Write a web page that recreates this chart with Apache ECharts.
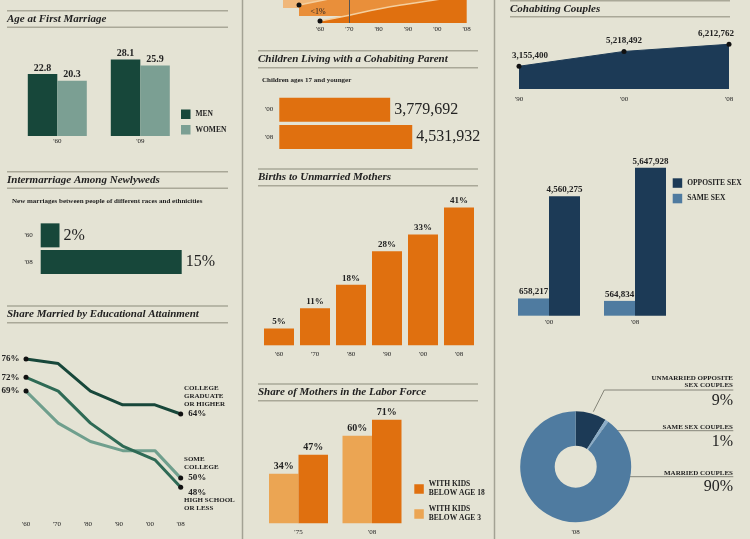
<!DOCTYPE html>
<html><head><meta charset="utf-8">
<script src="https://cdn.jsdelivr.net/npm/echarts@6/dist/echarts.min.js"></script>
<style>html,body{margin:0;padding:0;background:#e4e3d4;}#c{width:750px;height:539px;}</style>
</head><body><div id="c"></div><script>
// ---------- DATA ----------
const ageCats = ["'60", "'09"];
const ageMen = [22.8, 28.1];
const ageWomen = [20.3, 25.9];

const interCats = ["'60", "'08"];
const interVals = [2, 15];

const eduYears = [1960, 1970, 1980, 1990, 2000, 2008];
const eduLabels = ["'60", "'70", "'80", "'90", "'00", "'08"];
const eduCollege = [76, 75, 69, 66, 66, 64];
const eduHighSchool = [72, 69, 62, 57, 54, 48];
const eduSomeCollege = [69, 62, 58, 56, 56, 50];

const topCats = ["'60", "'70", "'80", "'90", "'00", "'08"];
const topDark = [0.9, 3.4, 6.1, 8.3, 10.2, 12];
const topMid = [4.8, 7.4, 10, 13, 15, 17];
const topLight = [6, 9, 12, 14, 16, 18];

const kidsCats = ["'00", "'08"];
const kidsVals = [3779692, 4531932];

const birthCats = ["'60", "'70", "'80", "'90", "'00", "'08"];
const birthVals = [5, 11, 18, 28, 33, 41];

const momCats = ["'75", "'08"];
const momUnder3 = [34, 60];
const momUnder18 = [47, 71];

const cohabCats = ["'90", "'00", "'08"];
const cohabVals = [3155400, 5218492, 6212762];

const sexCats = ["'00", "'08"];
const sameSex = [658217, 564834];
const oppSex = [4560275, 5647928];

const pieNames = ['UNMARRIED OPPOSITE SEX COUPLES', 'SAME SEX COUPLES', 'MARRIED COUPLES'];
const pieVals = [9, 1, 90];

// ---------- STYLE ----------
const FF = '"Liberation Serif", "DejaVu Serif", serif';
const INK = '#222';
const GREEN_D = '#17473a', GREEN_L = '#7b9f93', GREEN_M = '#2e6a55', GREEN_LL = '#6f9f8d';
const OR_D = '#e0700f', OR_L = '#eba553', OR_M = '#e98f3a', OR_LL = '#f0b77a';
const NAVY = '#1c3a56', STEEL = '#4f7ba0', SKY = '#8aacc8';
const pieColors = [NAVY, SKY, STEEL];
const fmt = v => v.toLocaleString('en-US');

const G = (left, top, width, height) => ({left, top, width, height, outerBoundsMode: 'none', containLabel: false});
const catAxis = (gi, data, margin, extra) => Object.assign({
  type: 'category', gridIndex: gi, data,
  axisLine: {show: false}, axisTick: {show: false}, splitLine: {show: false},
  axisLabel: {fontSize: 7, color: INK, fontFamily: FF, margin: margin}
}, extra || {});
const valAxis = (gi, min, max) => ({type: 'value', gridIndex: gi, min, max, show: false, splitLine: {show: false}});

const lbl = (extra) => Object.assign({show: true, color: INK, fontFamily: FF, fontWeight: 'bold'}, extra);

function eduData(vals, lastOffset) {
  return eduYears.map((yr, i) => {
    const item = {value: [yr, vals[i]]};
    if (i === 0) item.label = {show: true, position: 'left', distance: 4};
    else if (i === vals.length - 1) item.label = {show: true, position: 'right', distance: 5, offset: lastOffset};
    return item;
  });
}
const endDots = n => (v, p) => (p.dataIndex === 0 || p.dataIndex === n - 1) ? 5 : 0;
function eduSeries(name, vals, color, lastOffset) {
  return {
    type: 'line', name, xAxisIndex: 2, yAxisIndex: 2, data: eduData(vals, lastOffset),
    lineStyle: {color, width: 3}, itemStyle: {color: '#111'},
    symbol: 'circle', symbolSize: endDots(vals.length),
    label: {show: false, formatter: p => p.value[1] + '%', fontSize: 9, fontWeight: 'bold', color: INK, fontFamily: FF}
  };
}

// ---------- GRAPHIC ----------
const TITLE = 'italic bold 11px ' + FF;
const SMALL = 'bold 7px ' + FF;
const rule = (x1, x2, y) => ({type: 'line', silent: true, shape: {x1, y1: y, x2, y2: y}, style: {stroke: '#a9a898', lineWidth: 1.5}});
const vline = x => ({type: 'line', silent: true, shape: {x1: x, y1: 0, x2: x, y2: 539}, style: {stroke: '#a3a294', lineWidth: 1.5}});
const txt = (t, x, y, font, align) => ({type: 'text', silent: true, x, y, style: {text: t, font, fill: INK, align: align || 'left', verticalAlign: 'middle'}});
const pl = pts => ({type: 'polyline', silent: true, shape: {points: pts}, style: {stroke: '#6d6d62', lineWidth: 0.8, fill: null}});

const graphics = [
  vline(242.5), vline(494.5),
  rule(7, 228, 10.7), txt('Age at First Marriage', 7, 19.5, TITLE), rule(7, 228, 27.3),
  rule(7, 228, 171.7), txt('Intermarriage Among Newlyweds', 7, 180, TITLE), rule(7, 228, 188.3),
  txt('New marriages between people of different races and ethnicities', 12, 201.5, SMALL),
  rule(7, 228, 306), txt('Share Married by Educational Attainment', 7, 314.5, TITLE), rule(7, 228, 322.7),
  txt('COLLEGE', 184, 388.3, SMALL), txt('GRADUATE', 184, 396.3, SMALL), txt('OR HIGHER', 184, 404.3, SMALL),
  txt('SOME', 184, 459.3, SMALL), txt('COLLEGE', 184, 467.3, SMALL),
  txt('HIGH SCHOOL', 184, 499.7, SMALL), txt('OR LESS', 184, 507.7, SMALL),
  rule(258, 478, 50.7), txt('Children Living with a Cohabiting Parent', 258, 59.5, TITLE), rule(258, 478, 67.7),
  txt('Children ages 17 and younger', 262, 80.3, SMALL),
  rule(258, 478, 169), txt('Births to Unmarried Mothers', 258, 177.5, TITLE), rule(258, 478, 185.7),
  rule(258, 478, 384), txt('Share of Mothers in the Labor Force', 258, 392.5, TITLE), rule(258, 478, 400.7),
  rule(510, 730, 0.7), txt('Cohabiting Couples', 510, 9.3, TITLE), rule(510, 730, 16.7),
  // donut annotations
  pl([[593.3, 411.7], [604.3, 390], [733.3, 390]]),
  txt('UNMARRIED OPPOSITE', 733, 377.7, SMALL, 'right'), txt('SEX COUPLES', 733, 385.5, SMALL, 'right'),
  txt(pieVals[0] + '%', 733, 401, '16px ' + FF, 'right'),
  pl([[588.3, 446.7], [600, 430.7], [733.3, 430.7]]),
  txt('SAME SEX COUPLES', 733, 427, SMALL, 'right'),
  txt(pieVals[1] + '%', 733, 442, '16px ' + FF, 'right'),
  pl([[613.3, 476.7], [733.3, 476.7]]),
  txt('MARRIED COUPLES', 733, 473, SMALL, 'right'),
  txt(pieVals[2] + '%', 733, 487, '16px ' + FF, 'right'),
  txt("'08", 575.7, 531.7, '7px ' + FF, 'center')
];

// ---------- OPTION ----------
const legendBase = {orient: 'vertical', icon: 'rect', itemWidth: 9.5, itemHeight: 9.5, padding: 0, itemGap: 6, itemTextGap: 4.5, selectedMode: false,
  textStyle: {fontSize: 7.5, fontWeight: 'bold', color: INK, fontFamily: FF}};

const option = {
  animation: false,
  backgroundColor: '#e4e3d4',
  textStyle: {fontFamily: FF},
  grid: [
    G(15.8, 54.4, 166, 81.6),       // 0 age
    G(40.7, 222, 188, 53.4),        // 1 intermarriage
    G(26, 340.7, 154.7, 164.9),     // 2 education
    G(283, 0, 146.7, 8),            // 3 top light
    G(299, 0, 146.7, 16),           // 4 top mid
    G(320, 0, 146.7, 23),           // 5 top dark
    G(279.3, 96, 176, 54.6),        // 6 kids
    G(261, 177.3, 216, 168),        // 7 births
    G(261.75, 406.5, 147, 116.8),   // 8 moms
    G(519, 38.6, 210, 50.4),        // 9 cohab
    G(506, 158.5, 172, 157.2)       // 10 same/opp
  ],
  xAxis: [
    catAxis(0, ageCats, 2),
    valAxis(1, 0, 20),
    {type: 'value', gridIndex: 2, min: 1960, max: 2008, show: false, position: 'bottom'},
    catAxis(2, eduLabels, 15, {boundaryGap: false, position: 'bottom'}),
    catAxis(3, topCats, 3, {boundaryGap: false, show: false}),
    catAxis(4, topCats, 3, {boundaryGap: false, show: false}),
    catAxis(5, topCats, 3, {boundaryGap: false}),
    valAxis(6, 0, 6000000),
    catAxis(7, birthCats, 5),
    catAxis(8, momCats, 5),
    catAxis(9, cohabCats, 6.5, {boundaryGap: false}),
    catAxis(10, sexCats, 3)
  ],
  yAxis: [
    valAxis(0, 0, 30),
    catAxis(1, interCats, 8, {inverse: true}),
    valAxis(2, 44, 80),
    valAxis(3, 0, 3.5),
    valAxis(4, 0, 7),
    valAxis(5, 0, 10),
    catAxis(6, kidsCats, 6, {inverse: true}),
    valAxis(7, 0, 50),
    valAxis(8, 0, 80),
    valAxis(9, 0, 7000000),
    valAxis(10, 0, 6000000)
  ],
  legend: [
    Object.assign({}, legendBase, {data: ['MEN', 'WOMEN'], left: 181, top: 109.5}),
    Object.assign({}, legendBase, {data: ['WITH KIDS BELOW AGE 18', 'WITH KIDS BELOW AGE 3'], left: 414.3, top: 480, itemGap: 7,
      formatter: n => n.replace('WITH KIDS ', 'WITH KIDS\n'), textStyle: Object.assign({}, legendBase.textStyle, {lineHeight: 9})}),
    Object.assign({}, legendBase, {data: ['OPPOSITE SEX', 'SAME SEX'], left: 672.7, top: 178.3})
  ],
  series: [
    {type: 'bar', name: 'MEN', xAxisIndex: 0, yAxisIndex: 0, data: ageMen, barWidth: 29.5, barGap: '0%',
      itemStyle: {color: GREEN_D}, label: lbl({position: 'top', distance: 1, fontSize: 10})},
    {type: 'bar', name: 'WOMEN', xAxisIndex: 0, yAxisIndex: 0, data: ageWomen, barWidth: 29.5, barGap: '0%',
      itemStyle: {color: GREEN_L}, label: lbl({position: 'top', distance: 1, fontSize: 10})},
    {type: 'bar', name: 'Intermarriage', xAxisIndex: 1, yAxisIndex: 1, data: interVals, barWidth: 24,
      itemStyle: {color: GREEN_D}, label: lbl({position: 'right', distance: 4, fontSize: 16, fontWeight: 'normal', formatter: '{c}%'})},
    eduSeries('Some college', eduSomeCollege, GREEN_LL, [0, 0]),
    eduSeries('High school or less', eduHighSchool, GREEN_M, [0, 5]),
    eduSeries('College graduate or higher', eduCollege, GREEN_D, [0, 0]),
    {type: 'line', name: 'top light', xAxisIndex: 4, yAxisIndex: 3, data: topLight, smooth: true, clip: true, symbol: 'none',
      lineStyle: {width: 0}, areaStyle: {color: OR_LL, opacity: 1}, z: 1},
    {type: 'line', name: 'top mid', xAxisIndex: 5, yAxisIndex: 4, data: topMid, smooth: true, clip: true,
      symbol: 'circle', symbolSize: (v, p) => p.dataIndex === 0 ? 5 : 0, itemStyle: {color: '#111'},
      lineStyle: {width: 1.5, color: '#f4cf9f'}, areaStyle: {color: OR_M, opacity: 1}, z: 2},
    {type: 'line', name: 'top dark', xAxisIndex: 6, yAxisIndex: 5, smooth: true, clip: true,
      data: topDark.map((v, i) => i === 0 ? {value: v, label: {show: true, position: 'top', distance: 3, offset: [-2, 0], formatter: '<1%', fontSize: 8, color: INK, fontFamily: FF}} : v),
      symbol: 'circle', symbolSize: (v, p) => p.dataIndex === 0 ? 5 : 0, itemStyle: {color: '#111'},
      lineStyle: {width: 1.5, color: '#f4cf9f'}, areaStyle: {color: OR_D, opacity: 1}, z: 3,
      markLine: {silent: true, symbol: 'none', label: {show: false}, lineStyle: {color: '#555', width: 1, type: 'solid'}, data: [{xAxis: "'70"}]}},
    {type: 'bar', name: 'Children', xAxisIndex: 7, yAxisIndex: 6, data: kidsVals, barWidth: 24,
      itemStyle: {color: OR_D}, label: lbl({position: 'right', distance: 4, fontSize: 16, fontWeight: 'normal', formatter: p => fmt(p.value)})},
    {type: 'bar', name: 'Births', xAxisIndex: 8, yAxisIndex: 7, data: birthVals, barWidth: 30,
      itemStyle: {color: OR_D}, label: lbl({position: 'top', distance: 2, fontSize: 9, formatter: '{c}%'})},
    {type: 'bar', name: 'WITH KIDS BELOW AGE 3', xAxisIndex: 9, yAxisIndex: 8, data: momUnder3, barWidth: 29.5, barGap: '0%',
      itemStyle: {color: OR_L}, label: lbl({position: 'top', distance: 2, fontSize: 10, formatter: '{c}%'})},
    {type: 'bar', name: 'WITH KIDS BELOW AGE 18', xAxisIndex: 9, yAxisIndex: 8, data: momUnder18, barWidth: 29.5, barGap: '0%',
      itemStyle: {color: OR_D}, label: lbl({position: 'top', distance: 2, fontSize: 10, formatter: '{c}%'})},
    {type: 'line', name: 'Cohabiting', xAxisIndex: 10, yAxisIndex: 9,
      data: cohabVals.map((v, i) => i === 0 ? {value: v, label: {offset: [11, 0]}} : (i === cohabVals.length - 1 ? {value: v, label: {offset: [-13, 0]}} : v)),
      symbol: 'circle', symbolSize: 5, itemStyle: {color: '#111'}, lineStyle: {color: NAVY, width: 1},
      areaStyle: {color: NAVY, opacity: 1}, label: lbl({position: 'top', distance: 4, fontSize: 9, formatter: p => fmt(p.value)})},
    {type: 'bar', name: 'SAME SEX', xAxisIndex: 11, yAxisIndex: 10, data: sameSex, barWidth: 31, barGap: '0%',
      itemStyle: {color: STEEL}, label: lbl({position: 'top', distance: 2, fontSize: 9, formatter: p => fmt(p.value)})},
    {type: 'bar', name: 'OPPOSITE SEX', xAxisIndex: 11, yAxisIndex: 10, data: oppSex, barWidth: 31, barGap: '0%',
      itemStyle: {color: NAVY}, label: lbl({position: 'top', distance: 2, fontSize: 9, formatter: p => fmt(p.value)})},
    {type: 'pie', name: 'Couples', center: [575.7, 466.7], radius: [21, 55.5], startAngle: 90, clockwise: true, silent: true,
      label: {show: false}, labelLine: {show: false},
      data: pieNames.map((n, i) => ({name: n, value: pieVals[i], itemStyle: {color: pieColors[i]}}))}
  ],
  graphic: graphics
};

const chart = echarts.init(document.getElementById('c'), null, {renderer: 'canvas'});
chart.setOption(option);
</script></body></html>
